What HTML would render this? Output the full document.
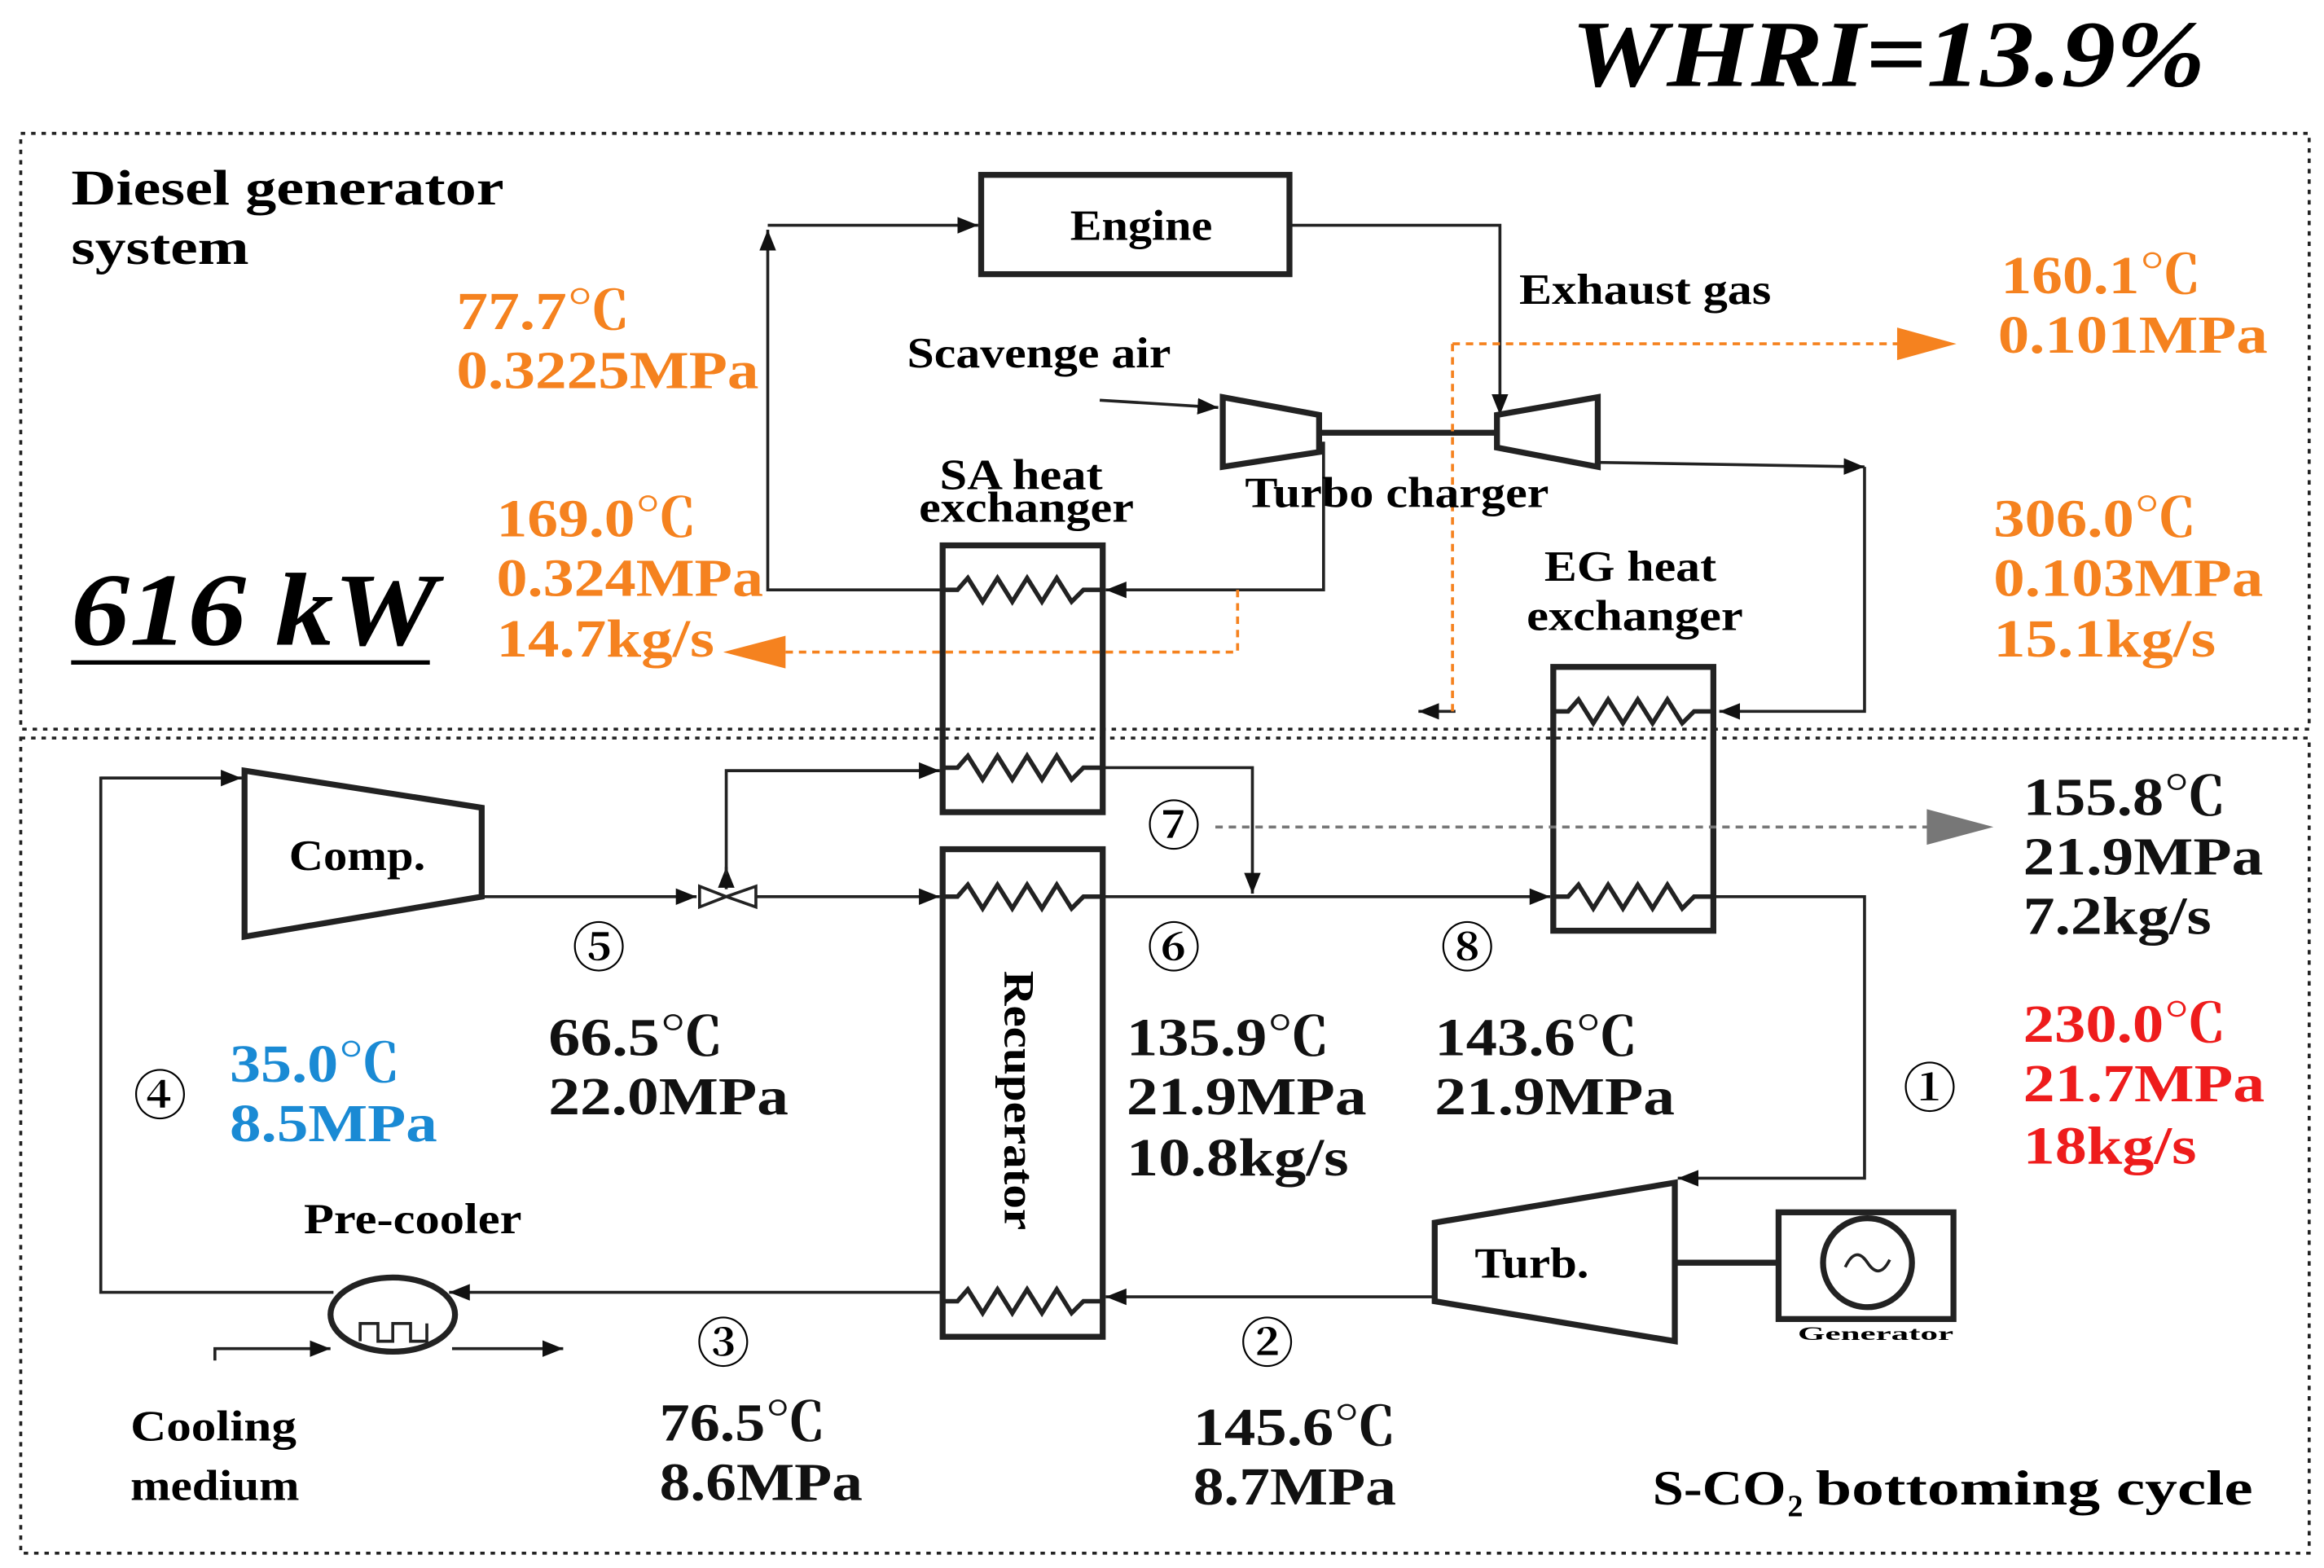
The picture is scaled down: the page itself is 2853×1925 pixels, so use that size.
<!DOCTYPE html>
<html><head><meta charset="utf-8"><style>
html,body{margin:0;padding:0;background:#fff}
svg{display:block}
text{font-family:"Liberation Serif","Noto Serif CJK SC",serif;font-weight:bold}
</style></head><body>
<svg width="2853" height="1925" viewBox="0 0 1568 1058" preserveAspectRatio="none" xmlns="http://www.w3.org/2000/svg">
<defs>
<marker id="a" viewBox="0 0 10 10" refX="10" refY="5" markerWidth="7" markerHeight="7" orient="auto"><path d="M0,1 L10,5 L0,9 z" fill="#111"/></marker>
<marker id="g" viewBox="0 0 10 10" refX="10" refY="5" markerWidth="6" markerHeight="6" orient="auto"><path d="M0,0 L10,5 L0,10 z" fill="#777"/></marker>
</defs>
<text x="1060" y="58" font-size="64" font-style="italic" textLength="428" lengthAdjust="spacingAndGlyphs">WHRI=13.9%</text>
<rect x="14" y="90" width="1544" height="402" fill="none" stroke="#222" stroke-width="2" stroke-dasharray="3,4"/>
<rect x="14" y="498" width="1544" height="550" fill="none" stroke="#222" stroke-width="2" stroke-dasharray="3,4"/>
<text x="48" y="138" font-size="34" textLength="292" lengthAdjust="spacingAndGlyphs">Diesel generator</text>
<text x="48" y="178" font-size="34" textLength="120" lengthAdjust="spacingAndGlyphs">system</text>
<text x="48" y="435" font-size="70" font-style="italic" textLength="247" lengthAdjust="spacingAndGlyphs">616 kW</text>
<line x1="48" y1="447" x2="290" y2="447" stroke="#000" stroke-width="3"/>
<g fill="none" stroke="#222" stroke-width="2">
<rect x="662" y="118" width="208" height="67" stroke-width="4"/>
<polyline points="636,398 518,398 518,155" marker-end="url(#a)"/>
<line x1="518" y1="152" x2="660" y2="152" marker-end="url(#a)"/>
<polyline points="870,152 1012,152 1012,280" marker-end="url(#a)"/>
<line x1="742" y1="270" x2="822" y2="275" marker-end="url(#a)"/>
<polygon points="825,268 890,280 890,305 825,315" stroke-width="4"/>
<polygon points="1010,280 1078,268 1078,315 1010,302" stroke-width="4"/>
<line x1="890" y1="292" x2="1010" y2="292" stroke-width="4"/>
<polyline points="1078,312 1258,315" marker-end="url(#a)"/>
<polyline points="1258,315 1258,480 1160,480" marker-end="url(#a)"/>
<polyline points="893,298 893,398 746,398" marker-end="url(#a)"/>
<rect x="636" y="368" width="108" height="180" stroke-width="4"/>
<rect x="1048" y="450" width="108" height="178" stroke-width="4"/>
<rect x="636" y="573" width="108" height="329" stroke-width="4"/>
<polyline points="636,398 646,398 653,390 663,406 673,390 683,406 693,390 703,406 713,390 723,406 731,398 744,398" stroke-width="3"/>
<polyline points="636,518 646,518 653,510 663,526 673,510 683,526 693,510 703,526 713,510 723,526 731,518 744,518" stroke-width="3"/>
<polyline points="636,605 646,605 653,597 663,613 673,597 683,613 693,597 703,613 713,597 723,613 731,605 744,605" stroke-width="3"/>
<polyline points="636,878 646,878 653,870 663,886 673,870 683,886 693,870 703,886 713,870 723,886 731,878 744,878" stroke-width="3"/>
<polyline points="1048,480 1058,480 1065,472 1075,488 1085,472 1095,488 1105,472 1115,488 1125,472 1135,488 1143,480 1156,480" stroke-width="3"/>
<polyline points="1048,605 1058,605 1065,597 1075,613 1085,597 1095,613 1105,597 1115,613 1125,597 1135,613 1143,605 1156,605" stroke-width="3"/>
<polygon points="165,520 325,545 325,605 165,632" stroke-width="4"/>
<polyline points="165,525 68,525 68,872 225,872" />
<line x1="68" y1="525" x2="163" y2="525" marker-end="url(#a)"/>
<line x1="636" y1="872" x2="303" y2="872" marker-end="url(#a)"/>
<ellipse cx="265" cy="887" rx="42" ry="25" stroke-width="4"/>
<polyline points="243,905 243,893 255,893 255,905 265,905 265,893 277,893 277,905 288,905 288,893" stroke-width="2"/>
<polyline points="145,918 145,910 223,910" marker-end="url(#a)"/>
<line x1="305" y1="910" x2="380" y2="910" marker-end="url(#a)"/>
<line x1="325" y1="605" x2="470" y2="605" marker-end="url(#a)"/>
<line x1="510" y1="605" x2="634" y2="605" marker-end="url(#a)"/>
<line x1="490" y1="600" x2="490" y2="585" marker-end="url(#a)"/>
<polyline points="490,590 490,520 634,520" marker-end="url(#a)"/>
<polyline points="744,518 845,518 845,603" marker-end="url(#a)"/>
<line x1="744" y1="605" x2="1046" y2="605" marker-end="url(#a)"/>
<polyline points="1156,605 1258,605 1258,795 1132,795" marker-end="url(#a)"/>
<polygon points="968,825 1130,798 1130,905 968,878" stroke-width="4"/>
<line x1="1130" y1="852" x2="1200" y2="852" stroke-width="4"/>
<rect x="1200" y="818" width="118" height="72" stroke-width="4"/>
<circle cx="1260" cy="852" r="30" stroke-width="4"/>
<path d="M1245,855 Q1252,840 1260,852 T1275,850" stroke-width="2"/>
<line x1="968" y1="875" x2="746" y2="875" marker-end="url(#a)"/>
<line x1="982" y1="480" x2="957" y2="480" marker-end="url(#a)"/>
</g>
<polygon points="472,598 490,605 472,612" fill="none" stroke="#222" stroke-width="2"/>
<polygon points="510,598 490,605 510,612" fill="none" stroke="#222" stroke-width="2"/>
<g fill="none" stroke="#f5821f" stroke-width="2" stroke-dasharray="5,4">
<line x1="980" y1="232" x2="1285" y2="232"/>
<polyline points="980,232 980,480"/>
<polyline points="835,398 835,440 525,440"/>
</g>
<polygon points="1280,221 1320,232 1280,243" fill="#f5821f"/>
<polygon points="530,429 488,440 530,451" fill="#f5821f"/>
<line x1="820" y1="558" x2="1310" y2="558" stroke="#777" stroke-width="2" stroke-dasharray="5,4"/>
<polygon points="1300,546 1345,558 1300,570" fill="#777"/>
<g font-size="29">
<text x="722" y="162" textLength="96" lengthAdjust="spacingAndGlyphs">Engine</text>
<text x="195" y="587" textLength="92" lengthAdjust="spacingAndGlyphs">Comp.</text>
<text x="995" y="862" textLength="77" lengthAdjust="spacingAndGlyphs">Turb.</text>
</g>
<text x="1213" y="904" font-size="13" textLength="105" lengthAdjust="spacingAndGlyphs">Generator</text>
<g font-size="29">
<text x="1025" y="205" textLength="170" lengthAdjust="spacingAndGlyphs">Exhaust gas</text>
<text x="612" y="248" textLength="178" lengthAdjust="spacingAndGlyphs">Scavenge air</text>
<text x="840" y="342" textLength="205" lengthAdjust="spacingAndGlyphs">Turbo charger</text>
<text x="634" y="330" textLength="110" lengthAdjust="spacingAndGlyphs">SA heat</text>
<text x="620" y="352" textLength="145" lengthAdjust="spacingAndGlyphs">exchanger</text>
<text x="1042" y="392" textLength="116" lengthAdjust="spacingAndGlyphs">EG heat</text>
<text x="1030" y="425" textLength="146" lengthAdjust="spacingAndGlyphs">exchanger</text>
<text x="205" y="832" textLength="147" lengthAdjust="spacingAndGlyphs">Pre-cooler</text>
<text x="88" y="972" textLength="112" lengthAdjust="spacingAndGlyphs">Cooling</text>
<text x="88" y="1012" textLength="114" lengthAdjust="spacingAndGlyphs">medium</text>
</g>
<text x="1115" y="1015" font-size="33" textLength="90" lengthAdjust="spacingAndGlyphs">S-CO</text>
<text x="1206" y="1023" font-size="21">2</text>
<text x="1225" y="1015" font-size="33" textLength="295" lengthAdjust="spacingAndGlyphs">bottoming cycle</text>
<text x="0" y="0" font-size="29" transform="translate(678,655) rotate(90)" textLength="175" lengthAdjust="spacingAndGlyphs">Recuperator</text>
<g font-size="36" text-anchor="middle" style="font-family:'DejaVu Sans',sans-serif">
<text x="404" y="652" font-weight="normal">⑤</text>
<text x="792" y="652" font-weight="normal">⑥</text>
<text x="990" y="652" font-weight="normal">⑧</text>
<text x="792" y="570" font-weight="normal">⑦</text>
<text x="108" y="752" font-weight="normal">④</text>
<text x="1302" y="747" font-weight="normal">①</text>
<text x="488" y="919" font-weight="normal">③</text>
<text x="855" y="919" font-weight="normal">②</text>
</g>
<g font-size="36" fill="#f5821f" lengthAdjust="spacingAndGlyphs">
<text x="308" y="222" textLength="117" lengthAdjust="spacingAndGlyphs">77.7℃</text><text x="308" y="262" textLength="204" lengthAdjust="spacingAndGlyphs">0.3225MPa</text>
<text x="335" y="362" textLength="135" lengthAdjust="spacingAndGlyphs">169.0℃</text><text x="335" y="402" textLength="180" lengthAdjust="spacingAndGlyphs">0.324MPa</text><text x="335" y="443" textLength="147" lengthAdjust="spacingAndGlyphs">14.7kg/s</text>
<text x="1350" y="198" textLength="135" lengthAdjust="spacingAndGlyphs">160.1℃</text><text x="1348" y="238" textLength="182" lengthAdjust="spacingAndGlyphs">0.101MPa</text>
<text x="1345" y="362" textLength="137" lengthAdjust="spacingAndGlyphs">306.0℃</text><text x="1345" y="402" textLength="182" lengthAdjust="spacingAndGlyphs">0.103MPa</text><text x="1345" y="443" textLength="150" lengthAdjust="spacingAndGlyphs">15.1kg/s</text>
</g>
<g font-size="36" fill="#111">
<text x="370" y="712" textLength="118" lengthAdjust="spacingAndGlyphs">66.5℃</text><text x="370" y="752" textLength="162" lengthAdjust="spacingAndGlyphs">22.0MPa</text>
<text x="760" y="712" textLength="137" lengthAdjust="spacingAndGlyphs">135.9℃</text><text x="760" y="752" textLength="162" lengthAdjust="spacingAndGlyphs">21.9MPa</text><text x="760" y="793" textLength="150" lengthAdjust="spacingAndGlyphs">10.8kg/s</text>
<text x="968" y="712" textLength="137" lengthAdjust="spacingAndGlyphs">143.6℃</text><text x="968" y="752" textLength="162" lengthAdjust="spacingAndGlyphs">21.9MPa</text>
<text x="1365" y="550" textLength="137" lengthAdjust="spacingAndGlyphs">155.8℃</text><text x="1365" y="590" textLength="162" lengthAdjust="spacingAndGlyphs">21.9MPa</text><text x="1365" y="630" textLength="127" lengthAdjust="spacingAndGlyphs">7.2kg/s</text>
<text x="445" y="972" textLength="112" lengthAdjust="spacingAndGlyphs">76.5℃</text><text x="445" y="1012" textLength="137" lengthAdjust="spacingAndGlyphs">8.6MPa</text>
<text x="805" y="975" textLength="137" lengthAdjust="spacingAndGlyphs">145.6℃</text><text x="805" y="1015" textLength="137" lengthAdjust="spacingAndGlyphs">8.7MPa</text>
</g>
<g font-size="36" fill="#ee1c1c">
<text x="1365" y="703" textLength="137" lengthAdjust="spacingAndGlyphs">230.0℃</text><text x="1365" y="743" textLength="163" lengthAdjust="spacingAndGlyphs">21.7MPa</text><text x="1365" y="785" textLength="117" lengthAdjust="spacingAndGlyphs">18kg/s</text>
</g>
<g font-size="36" fill="#1a8ad4">
<text x="155" y="730" textLength="115" lengthAdjust="spacingAndGlyphs">35.0℃</text><text x="155" y="770" textLength="140" lengthAdjust="spacingAndGlyphs">8.5MPa</text>
</g>
</svg>
</body></html>
